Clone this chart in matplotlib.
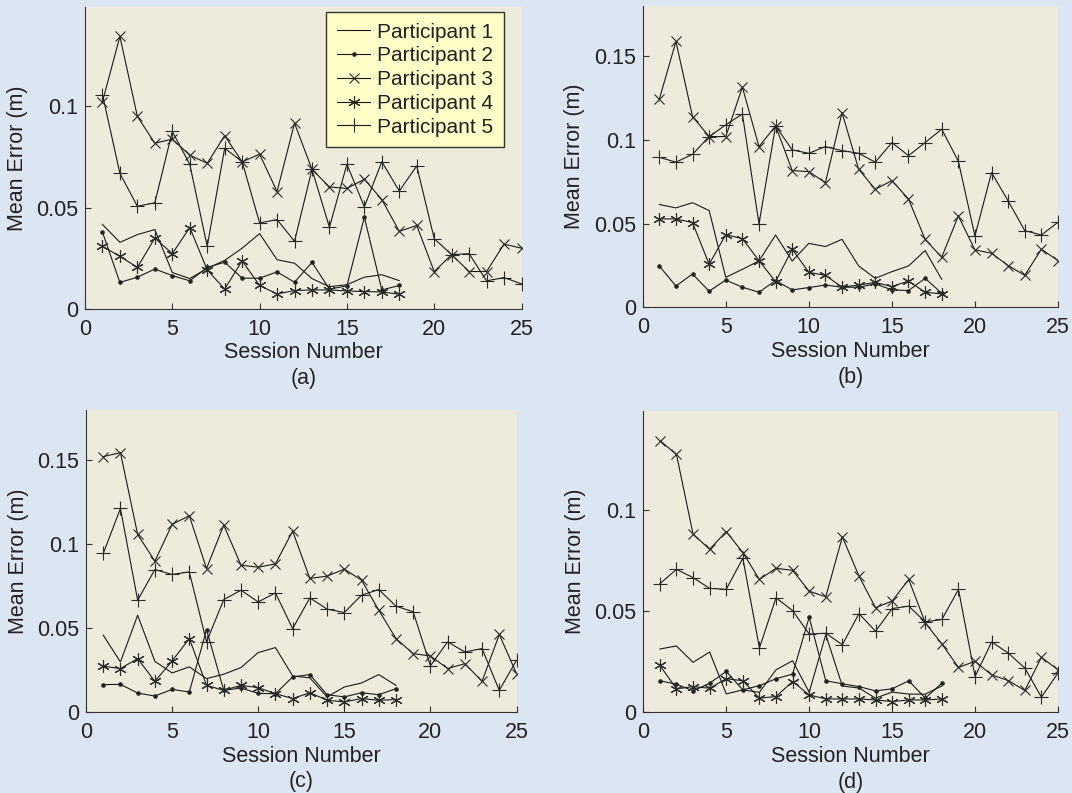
import numpy as np
import matplotlib
matplotlib.use('Agg')
import matplotlib.pyplot as plt

plt.rcParams['font.family'] = ['Liberation Sans', 'DejaVu Sans']

sessions_short = np.arange(1, 19)
sessions_long = np.arange(1, 26)
labels = ['Participant 1', 'Participant 2', 'Participant 3', 'Participant 4', 'Participant 5']

# ---- panel (a) ----
a_p1 = [0.0417, 0.0329, 0.0367, 0.0392, 0.018, 0.015, 0.020, 0.024, 0.030, 0.0372,
        0.0243, 0.0226, 0.015, 0.011, 0.012, 0.0157, 0.0169, 0.014]
a_p2 = [0.0379, 0.0131, 0.0157, 0.0197, 0.0165, 0.0139, 0.0205, 0.0231, 0.0152, 0.0152,
        0.0183, 0.0132, 0.023, 0.0098, 0.0114, 0.0453, 0.0094, 0.0116]
a_p3 = [0.1023, 0.1345, 0.095, 0.0818, 0.0838, 0.0759, 0.0719, 0.0855, 0.0726, 0.0764,
        0.0579, 0.0917, 0.0689, 0.0602, 0.0595, 0.064, 0.054, 0.0383, 0.0412, 0.0185,
        0.0268, 0.0185, 0.0185, 0.032, 0.030]
a_p4 = [0.0309, 0.026, 0.0205, 0.035, 0.0273, 0.0402, 0.0193, 0.0098, 0.0238, 0.0116,
        0.0074, 0.0091, 0.0094, 0.0094, 0.0089, 0.0086, 0.0084, 0.0073]
a_p5 = [0.1058, 0.0669, 0.0507, 0.0524, 0.0876, 0.0714, 0.0309, 0.0793, 0.0727, 0.0425,
        0.0441, 0.0334, 0.0689, 0.0403, 0.0714, 0.0504, 0.0727, 0.0582, 0.0706, 0.0347,
        0.0268, 0.0273, 0.0139, 0.0155, 0.0124]

# ---- panel (b) ----
b_p1 = [0.0614, 0.0594, 0.0625, 0.0578, 0.0179, 0.0227, 0.0277, 0.0432, 0.0277, 0.0382,
        0.0363, 0.0406, 0.0247, 0.0173, 0.0213, 0.0247, 0.0339, 0.0167]
b_p2 = [0.0247, 0.0127, 0.0199, 0.0096, 0.0163, 0.012, 0.009, 0.016, 0.0104, 0.0118,
        0.0133, 0.012, 0.012, 0.014, 0.0104, 0.010, 0.0173, 0.0084]
b_p3 = [0.1243, 0.1588, 0.1139, 0.102, 0.102, 0.1315, 0.096, 0.1084, 0.0817, 0.081,
        0.0745, 0.1163, 0.0825, 0.0705, 0.0757, 0.0647, 0.0406, 0.0299, 0.0546, 0.0343,
        0.0323, 0.0249, 0.0191, 0.0347, 0.0279]
b_p4 = [0.0528, 0.0528, 0.0506, 0.0257, 0.0434, 0.041, 0.0279, 0.0153, 0.0347, 0.0209,
        0.0191, 0.012, 0.0133, 0.0149, 0.0124, 0.0157, 0.009, 0.008]
b_p5 = [0.0896, 0.0867, 0.0914, 0.102, 0.109, 0.1155, 0.0498, 0.1084, 0.094, 0.092,
        0.096, 0.0936, 0.092, 0.0867, 0.0984, 0.0906, 0.0984, 0.1064, 0.0873, 0.0426,
        0.0805, 0.0635, 0.0458, 0.0432, 0.0508]

# ---- panel (c) ----
c_p1 = [0.0458, 0.0298, 0.0577, 0.0302, 0.0233, 0.0269, 0.0199, 0.0225, 0.0265, 0.0354,
        0.0384, 0.0215, 0.0203, 0.009, 0.0149, 0.0173, 0.0223, 0.0159]
c_p2 = [0.0163, 0.0165, 0.0113, 0.0095, 0.0135, 0.0119, 0.0491, 0.0129, 0.0143, 0.0111,
        0.0109, 0.0209, 0.0223, 0.0103, 0.009, 0.0115, 0.0103, 0.0139]
c_p3 = [0.1522, 0.1546, 0.1058, 0.0899, 0.1118, 0.117, 0.0855, 0.1114, 0.0875, 0.0863,
        0.0883, 0.1078, 0.0796, 0.081, 0.0851, 0.0786, 0.0607, 0.0438, 0.0348, 0.0334,
        0.0259, 0.0288, 0.0183, 0.0462, 0.0229]
c_p4 = [0.0273, 0.0259, 0.0318, 0.0183, 0.0304, 0.0438, 0.0159, 0.0129, 0.0159, 0.0145,
        0.0109, 0.008, 0.0115, 0.007, 0.006, 0.008, 0.007, 0.0074]
c_p5 = [0.0945, 0.1213, 0.0666, 0.0849, 0.082, 0.0835, 0.0418, 0.067, 0.0726, 0.0656,
        0.071, 0.0497, 0.068, 0.0613, 0.0593, 0.0696, 0.073, 0.0631, 0.0597, 0.0275,
        0.0418, 0.0358, 0.0378, 0.0129, 0.0308]

# ---- panel (d) ----
d_p1 = [0.0313, 0.0328, 0.0247, 0.0298, 0.0091, 0.0111, 0.0099, 0.021, 0.0255, 0.0099,
        0.0384, 0.013, 0.012, 0.007, 0.010, 0.009, 0.009, 0.013]
d_p2 = [0.0156, 0.0139, 0.0106, 0.0144, 0.0202, 0.0111, 0.0132, 0.0166, 0.0189, 0.047,
        0.0156, 0.0141, 0.0127, 0.0106, 0.0116, 0.0156, 0.007, 0.0144]
d_p3 = [0.1344, 0.1275, 0.0881, 0.0806, 0.0894, 0.079, 0.0657, 0.0712, 0.0702, 0.0599,
        0.0571, 0.0868, 0.0674, 0.0517, 0.055, 0.0657, 0.0442, 0.0338, 0.0222, 0.0252,
        0.0185, 0.0157, 0.0108, 0.0272, 0.021]
d_p4 = [0.0232, 0.0116, 0.0127, 0.0119, 0.0166, 0.0156, 0.007, 0.0078, 0.0152, 0.0086,
        0.0066, 0.0066, 0.0066, 0.0061, 0.0053, 0.0061, 0.0061, 0.0066]
d_p5 = [0.0636, 0.0707, 0.0666, 0.0613, 0.0608, 0.0762, 0.0318, 0.0566, 0.0503, 0.0387,
        0.0391, 0.0334, 0.0488, 0.0401, 0.0513, 0.0525, 0.0447, 0.0459, 0.0608, 0.0177,
        0.0348, 0.0293, 0.0219, 0.0075, 0.0194]

panels = [
    ('(a)', [a_p1, a_p2, a_p3, a_p4, a_p5], 0.149, [0, 0.05, 0.1]),
    ('(b)', [b_p1, b_p2, b_p3, b_p4, b_p5], 0.18, [0, 0.05, 0.1, 0.15]),
    ('(c)', [c_p1, c_p2, c_p3, c_p4, c_p5], 0.18, [0, 0.05, 0.1, 0.15]),
    ('(d)', [d_p1, d_p2, d_p3, d_p4, d_p5], 0.149, [0, 0.05, 0.1]),
]

# axes boxes in pixels: left, right, top, bottom
W, H = 1072, 793
boxes = [(85, 521.5, 7, 309), (642.7, 1058, 6, 307.3),
         (86, 516.5, 410, 712), (643.3, 1058, 411, 712.3)]

markers = [dict(marker=None), dict(marker='.', markersize=5),
           dict(marker='x', markersize=7), dict(marker=(6, 2, 0), markersize=9),
           dict(marker='+', markersize=10)]

fig = plt.figure(figsize=(W / 100, H / 100), dpi=100)
fig.patch.set_facecolor('#dce6f3')
fontsize = 15.5

for (tag, series, ymax, yticks), (l, r, t, b) in zip(panels, boxes):
    ax = fig.add_axes([l / W, 1 - b / H, (r - l) / W, (b - t) / H])
    ax.set_facecolor('#ecebdc')
    for vals, lab, mk in zip(series, labels, markers):
        x = sessions_short if len(vals) == 18 else sessions_long
        ax.plot(x, vals, color='#1a1a1a', lw=0.8, markeredgewidth=0.8,
                markeredgecolor='#2a2a2a', markerfacecolor='#1a1a1a', label=lab, **mk)
    ax.set_xlim(0, 25)
    ax.set_ylim(0, ymax)
    ax.set_xticks([0, 5, 10, 15, 20, 25])
    ax.set_yticks(yticks)
    ax.set_yticklabels(['%g' % v for v in yticks])
    ax.tick_params(direction='in', length=4, width=0.8, labelsize=fontsize, colors='#333333',
                   labelcolor='#222222')
    ax.tick_params(axis='x', pad=7)
    ax.tick_params(axis='y', pad=5)
    for s in ['top', 'right']:
        ax.spines[s].set_visible(False)
    for s in ['left', 'bottom']:
        ax.spines[s].set_color('#333333')
        ax.spines[s].set_linewidth(0.8)
    ax.set_xlabel('Session Number\n' + tag, fontsize=fontsize, color='#222222', labelpad=2,
                  linespacing=1.3)
    ax.set_ylabel('Mean Error (m)', fontsize=fontsize, color='#222222', labelpad=6)
    if tag == '(a)':
        leg = ax.legend(loc='upper right', bbox_to_anchor=(0.960, 0.983), borderaxespad=0,
                        fontsize=15, fancybox=False, framealpha=1, handlelength=1.6,
                        labelspacing=0.23, handletextpad=0.35, borderpad=0.5)
        leg.get_frame().set_facecolor('#fffdc8')
        leg.get_frame().set_edgecolor('#333333')
        leg.get_frame().set_linewidth(1.0)
        for txt in leg.get_texts():
            txt.set_color('#222222')

fig.savefig('out.png', dpi=100, facecolor=fig.get_facecolor())
